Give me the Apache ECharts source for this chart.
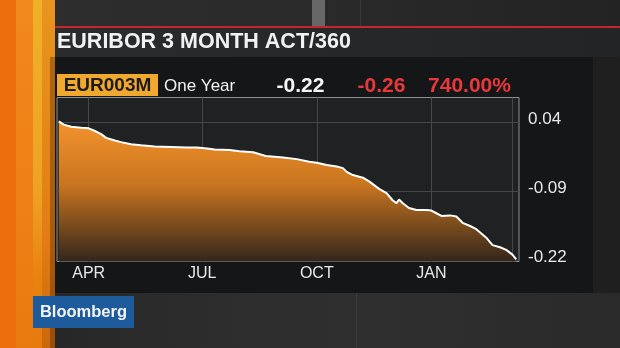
<!DOCTYPE html>
<html><head><meta charset="utf-8">
<script src="https://cdn.jsdelivr.net/npm/echarts@6/dist/echarts.min.js"></script>
<style>html,body{margin:0;padding:0;background:#1c1c1c;overflow:hidden}#c{width:620px;height:348px}</style>
</head><body><div id="c"></div>
<script>
// ---- data ----
const dates = ['2015-03-08','2015-03-12','2015-03-18','2015-03-26','2015-04-01','2015-04-06','2015-04-11','2015-04-15','2015-04-22','2015-04-27',
  '2015-05-05','2015-05-13','2015-05-24','2015-06-06','2015-06-19','2015-06-27','2015-07-05','2015-07-11','2015-07-23','2015-07-31',
  '2015-08-11','2015-08-21','2015-09-04','2015-09-15','2015-09-25','2015-10-01','2015-10-09','2015-10-17','2015-10-22','2015-10-25',
  '2015-10-30','2015-11-07','2015-11-12','2015-11-20','2015-11-26','2015-12-01','2015-12-04','2015-12-06','2015-12-09','2015-12-14',
  '2015-12-20','2015-12-28','2016-01-01','2016-01-05','2016-01-09','2016-01-16','2016-01-21','2016-01-26','2016-02-01','2016-02-06',
  '2016-02-14','2016-02-19','2016-02-25','2016-03-01','2016-03-06','2016-03-09'];
const values = [0.042,0.036,0.032,0.030,0.029,0.024,0.018,0.011,0.006,0.003,
  -0.001,-0.003,-0.005,-0.006,-0.007,-0.007,-0.009,-0.011,-0.012,-0.014,
  -0.016,-0.023,-0.026,-0.029,-0.034,-0.036,-0.040,-0.043,-0.046,-0.053,
  -0.059,-0.064,-0.071,-0.085,-0.093,-0.107,-0.112,-0.105,-0.112,-0.121,
  -0.125,-0.125,-0.126,-0.131,-0.136,-0.135,-0.137,-0.149,-0.155,-0.161,
  -0.177,-0.191,-0.195,-0.200,-0.209,-0.218];
const xTickDates = ['2015-04-01','2015-07-01','2015-10-01','2016-01-01','2016-03-06'];
const xTickLabels = ['APR','JUL','OCT','JAN',''];
const yTicks = [0.04,-0.09,-0.22];
const yTickLabels = ['0.04','-0.09','-0.22'];
const titleText = 'EURIBOR 3 MONTH ACT/360';
const tickerText = 'EUR003M';
const periodText = 'One Year';
const lastText = '-0.22';
const changeText = '-0.26';
const pctText = '740.00%';

// ---- helpers ----
function ts(s){ const p = s.split('-').map(Number); return Date.UTC(p[0], p[1]-1, p[2]); }
const xTickTs = xTickDates.map(ts);
const seriesData = dates.map((d,i)=>[ts(d), values[i]]);
const FONT = '"Liberation Sans", Arial, Helvetica, sans-serif';

const chart = echarts.init(document.getElementById('c'), null, {renderer:'canvas'});
const bg = [
  {type:'rect', z:-20, shape:{x:0,y:0,width:620,height:348}, style:{fill:'#1d1d1e'}},
  {type:'rect', z:-19, shape:{x:0,y:0,width:620,height:27}, style:{fill:new echarts.graphic.LinearGradient(0,0,1,0,[{offset:0,color:'#2e2e2e'},{offset:0.5,color:'#2a2a2a'},{offset:1,color:'#232323'}])}},
  {type:'rect', z:-18, shape:{x:312,y:0,width:13,height:27}, style:{fill:'#676767'}},
  {type:'rect', z:-18, shape:{x:360,y:0,width:1,height:27}, style:{fill:'#3a3a3a'}},
  {type:'rect', z:-17, shape:{x:50,y:26,width:570,height:2}, style:{fill:'#c4262c'}},
  {type:'rect', z:-17, shape:{x:51,y:28,width:569,height:29}, style:{fill:new echarts.graphic.LinearGradient(0,0,1,0,[{offset:0,color:'#2a2b2d'},{offset:1,color:'#232425'}])}},
  {type:'rect', z:-17, shape:{x:593,y:57,width:27,height:291}, style:{fill:'#1f1f1f'}},
  {type:'rect', z:-17, shape:{x:0,y:293,width:620,height:55}, style:{fill:new echarts.graphic.LinearGradient(0,0,1,0,[{offset:0,color:'#252525'},{offset:0.35,color:'#2d2d2d'},{offset:0.6,color:'#2f2f2f'},{offset:1,color:'#2a2a2a'}])}},
  {type:'rect', z:-16, shape:{x:356,y:293,width:1,height:55}, style:{fill:'#3c3c3c'}},
  {type:'rect', z:-16, shape:{x:55,y:57,width:538,height:236}, style:{fill:'#151618'}},
  {type:'rect', z:-15, shape:{x:0,y:0,width:55,height:348}, style:{fill:'#e9780f'}},
  {type:'rect', z:-14, shape:{x:0,y:0,width:16,height:348}, style:{fill:'#ec6e0c'}},
  {type:'rect', z:-14, shape:{x:16,y:0,width:17,height:348}, style:{fill:new echarts.graphic.LinearGradient(0,0,0,1,[{offset:0,color:'#f2891e'},{offset:1,color:'#e97a10'}])}},
  {type:'rect', z:-14, shape:{x:33,y:0,width:9,height:348}, style:{fill:new echarts.graphic.LinearGradient(0,0,0,1,[{offset:0,color:'#f0b126'},{offset:0.55,color:'#eea225'},{offset:0.8,color:'#e9820f'},{offset:1,color:'#e87a0e'}])}},
  {type:'rect', z:-14, shape:{x:42,y:0,width:13,height:348}, style:{fill:new echarts.graphic.LinearGradient(0,0,0,1,[{offset:0,color:'#e8951f'},{offset:0.7,color:'#e27c12'},{offset:1,color:'#c9680c'}])}},
  {type:'rect', z:-13, shape:{x:50,y:57,width:5,height:291}, style:{fill:'rgba(60,30,5,0.35)'}},
  {type:'text', z:5, x:57, y:42, style:{text:titleText, fill:'#f2f2f2', font:'bold 21.5px '+FONT, verticalAlign:'middle', align:'left'}},
  {type:'rect', z:5, shape:{x:57,y:74,width:101,height:22}, style:{fill:'#f0a92e'}},
  {type:'text', z:6, x:107.5, y:86, style:{text:tickerText, fill:'#1b1b1b', font:'bold 19px '+FONT, verticalAlign:'middle', align:'center'}},
  {type:'text', z:6, x:164, y:86, style:{text:periodText, fill:'#f0f0f0', font:'17px '+FONT, verticalAlign:'middle', align:'left'}},
  {type:'text', z:6, x:300.5, y:86, style:{text:lastText, fill:'#f5f5f5', font:'bold 21px '+FONT, verticalAlign:'middle', align:'center'}},
  {type:'text', z:6, x:381.5, y:86, style:{text:changeText, fill:'#e8383c', font:'bold 21px '+FONT, verticalAlign:'middle', align:'center'}},
  {type:'text', z:6, x:469.5, y:86, style:{text:pctText, fill:'#e8383c', font:'bold 21px '+FONT, verticalAlign:'middle', align:'center'}},
  {type:'rect', z:5, shape:{x:33,y:296,width:101,height:32}, style:{fill:'#1e5b9d'}},
  {type:'text', z:6, x:83.5, y:312.5, style:{text:'Bloomberg', fill:'#f4f4f4', font:'bold 16.5px '+FONT, verticalAlign:'middle', align:'center'}}
];

chart.setOption({
  animation:false,
  backgroundColor:'transparent',
  graphic: bg,
  grid:{left:57, top:97.5, width:462, height:164, show:true, backgroundColor:'#1f2123', borderColor:'#8d8f91', borderWidth:1, containLabel:false},
  xAxis:{
    type:'value', min:ts('2015-03-06')+14*3600e3, max:ts('2016-03-11')+6*3600e3, scale:true,
    axisLine:{show:false}, axisTick:{show:false, customValues:xTickTs},
    splitLine:{show:true, lineStyle:{color:'#45474a', width:1}},
    axisLabel:{customValues:xTickTs, color:'#e8e8e8', fontSize:16, fontFamily:FONT, margin:4,
      formatter:function(v){ for(let i=0;i<xTickTs.length;i++){ if(Math.abs(v-xTickTs[i])<864e5) return xTickLabels[i]; } return ''; }}
  },
  yAxis:{
    type:'value', position:'right', min:-0.2219, max:0.0871,
    axisLine:{show:false}, axisTick:{show:false, customValues:yTicks},
    splitLine:{show:true, lineStyle:{color:'#45474a', width:1}},
    axisLabel:{customValues:yTicks, color:'#e8e8e8', fontSize:17, fontFamily:FONT, margin:9, align:'left',
      formatter:function(v){ for(let i=0;i<yTicks.length;i++){ if(Math.abs(v-yTicks[i])<1e-6) return '{a|'+yTickLabels[i]+'}'; } return ''; },
      rich:{a:{fontSize:17, fontFamily:FONT, color:'#e8e8e8', padding:[0,0,7,0]}}}
  },
  series:[{
    type:'line', data:seriesData, symbol:'none', smooth:false,
    lineStyle:{color:'#ffffff', width:2},
    areaStyle:{origin:'start', opacity:1, color:new echarts.graphic.LinearGradient(0,0,0,1,[
      {offset:0,color:'#f3932d'},{offset:0.45,color:'#c9751f'},{offset:1,color:'#33261b'}])}
  }]
});
</script></body></html>
